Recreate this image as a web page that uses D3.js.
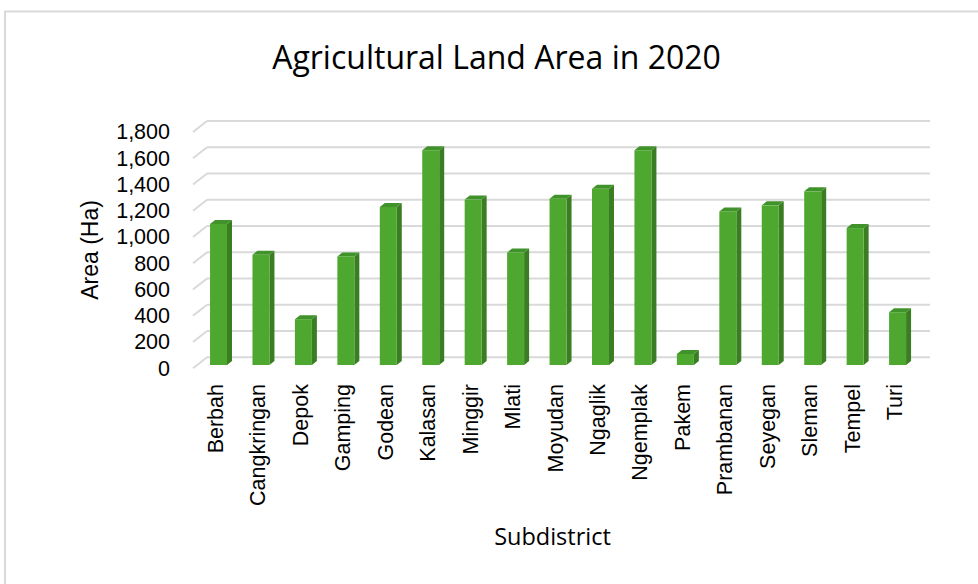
<!DOCTYPE html>
<html>
<head>
<meta charset="utf-8">
<title>Agricultural Land Area in 2020</title>
<script src="https://d3js.org/d3.v7.min.js"></script>
<style>
  body { margin: 0; background: #fff; }
  svg { display: block; }
</style>
</head>
<body>
<div id="chart"></div>
<script>
// data (Ha)
const subdistricts = ["Berbah", "Cangkringan", "Depok", "Gamping", "Godean", "Kalasan",
  "Minggir", "Mlati", "Moyudan", "Ngaglik", "Ngemplak", "Pakem", "Prambanan",
  "Seyegan", "Sleman", "Tempel", "Turi"];
const areaHa = [1075, 840, 349, 827, 1204, 1636, 1260, 857, 1267, 1343, 1636, 84,
  1170, 1216, 1323, 1043, 402];
const yTicks = [0, 200, 400, 600, 800, 1000, 1200, 1400, 1600, 1800];

const W = 978, H = 584;
const depthX = 14, depthY = 11;   // floor depth of the 3d box
const barDx = 5, barDy = 4;       // depth of each column

const svg = d3.select("#chart").append("svg")
  .attr("width", W).attr("height", H);

// chart frame
svg.append("rect")
  .attr("x", 5).attr("y", 11.5)
  .attr("width", 1000).attr("height", 600)
  .attr("fill", "#fff")
  .attr("stroke", "#d9d9d9").attr("stroke-width", 2);

// back wall scale, front edge scale, column scale
const yBack = d3.scaleLinear().domain([0, 1800]).range([357.3, 121]);
const yFront = d3.scaleLinear().domain([0, 1800]).range([357.3 + depthY, 121 + depthY]);
const yBar = d3.scaleLinear().domain([0, 1800]).range([365, 365 - (357.3 - 121)]);

const x = d3.scaleBand()
  .domain(subdistricts)
  .range([197.3, 918.8])
  .paddingInner(0.6)
  .paddingOuter(0.3);

const backLeft = 207, backRight = 930;

// gridlines
const grid = svg.append("g");
grid.selectAll("line.back")
  .data(yTicks)
  .enter().append("line")
  .attr("x1", backLeft).attr("x2", backRight)
  .attr("y1", d => yBack(d)).attr("y2", d => yBack(d))
  .attr("stroke", "#d9d9d9").attr("stroke-width", 2);
grid.selectAll("line.side")
  .data(yTicks)
  .enter().append("line")
  .attr("x1", backLeft - depthX).attr("x2", backLeft)
  .attr("y1", d => yFront(d)).attr("y2", d => yBack(d))
  .attr("stroke", "#d9d9d9").attr("stroke-width", 2);

// columns
const bw = x.bandwidth();
const bars = svg.append("g").selectAll("g")
  .data(subdistricts.map((s, i) => ({name: s, value: areaHa[i]})))
  .enter().append("g");

bars.append("polygon")
  .attr("fill", "#3a7d22")
  .attr("points", d => {
    const x0 = x(d.name) + bw, yt = yBar(d.value), yb = yBar(0);
    return [[x0, yt], [x0 + barDx, yt - barDy], [x0 + barDx, yb - barDy], [x0, yb]].join(" ");
  });
bars.append("polygon")
  .attr("fill", "#40922a")
  .attr("points", d => {
    const x0 = x(d.name), yt = yBar(d.value);
    return [[x0, yt], [x0 + barDx, yt - barDy], [x0 + bw + barDx, yt - barDy], [x0 + bw, yt]].join(" ");
  });
bars.append("rect")
  .attr("fill", "#4ea72e")
  .attr("x", d => x(d.name))
  .attr("y", d => yBar(d.value))
  .attr("width", bw)
  .attr("height", d => yBar(0) - yBar(d.value));

// y axis labels
const yAxis = svg.append("g")
  .attr("transform", "translate(170,0)")
  .call(d3.axisLeft(yFront).tickValues(yTicks).tickSize(0).tickPadding(0)
    .tickFormat(d3.format(",")));
yAxis.select(".domain").remove();
yAxis.selectAll("text")
  .attr("font-family", "'Liberation Sans', Arial, sans-serif")
  .attr("font-size", "21.5px")
  .attr("fill", "#000");

// x axis labels
const xAxis = svg.append("g")
  .attr("transform", "translate(-3,384)")
  .call(d3.axisBottom(x).tickSize(0).tickPadding(0));
xAxis.select(".domain").remove();
xAxis.selectAll("text")
  .attr("transform", "rotate(-90)")
  .attr("x", 0).attr("y", 0)
  .attr("dy", "0.35em")
  .style("text-anchor", "end")
  .attr("font-family", "'Liberation Sans', Arial, sans-serif")
  .attr("font-size", "21.5px")
  .attr("fill", "#000");

// titles
svg.append("text")
  .attr("x", 496.5).attr("y", 69)
  .attr("text-anchor", "middle")
  .attr("font-family", "'Open Sans', sans-serif")
  .attr("font-size", "32px")
  .attr("fill", "#000")
  .text("Agricultural Land Area in 2020");

svg.append("text")
  .attr("transform", "translate(98,250) rotate(-90)")
  .attr("text-anchor", "middle")
  .attr("font-family", "'Liberation Sans', Arial, sans-serif")
  .attr("font-size", "23px")
  .attr("fill", "#000")
  .text("Area (Ha)");

svg.append("text")
  .attr("x", 552.5).attr("y", 545)
  .attr("text-anchor", "middle")
  .attr("font-family", "'Open Sans', sans-serif")
  .attr("font-size", "23.5px")
  .attr("fill", "#000")
  .text("Subdistrict");
</script>
</body>
</html>
